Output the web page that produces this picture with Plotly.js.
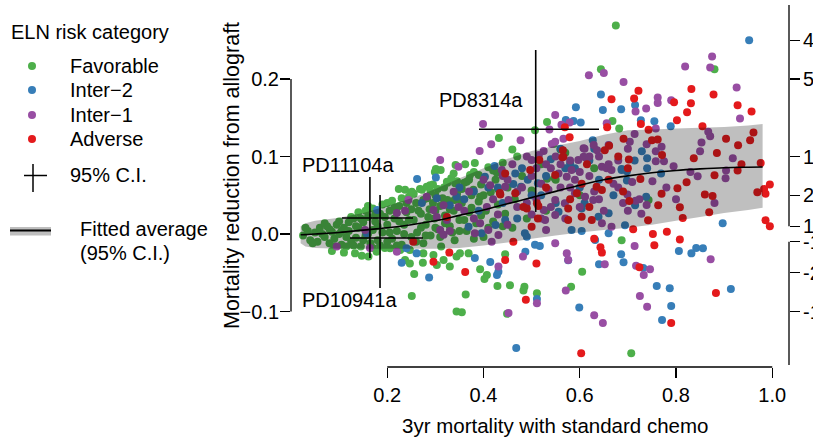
<!DOCTYPE html>
<html>
<head>
<meta charset="utf-8">
<script src="https://cdn.plot.ly/plotly-3.0.1.min.js"></script>
<style>html,body{margin:0;padding:0;background:#fff;}#chart{width:813px;height:441px;}</style>
</head>
<body>
<div id="chart"></div>
<script>
// ---------------- DATA ----------------
const categories = ["Favorable", "Inter\u22122", "Inter\u22121", "Adverse"];
const colors = ["#4DAF4A", "#377EB8", "#984EA3", "#E41A1C"];

const favorablePts = [
[0.025,-0.002],[0.035,0.004],[0.04,-0.008],[0.05,0.002],[0.055,-0.01],[0.06,0.008],[0.07,-0.004],[0.075,0.01],[0.08,-0.012],[0.085,0.003],[0.09,-0.006],[0.095,0.012],[0.1,0.0],[0.105,-0.014],[0.11,0.008],[0.115,-0.004],[0.12,0.015],[0.125,-0.01],
[0.03,0.008],[0.045,-0.012],[0.065,0.0],[0.07,0.014],[0.08,0.006],[0.09,-0.016],[0.1,0.016],[0.105,0.004],[0.115,-0.016],[0.12,0.004],[0.125,0.022],[0.13,-0.015],[0.135,0.01],[0.145,0.02],[0.15,-0.008],[0.16,0.036],[0.16,0.0],[0.17,-0.018],[0.175,0.025],[0.18,0.01],[0.185,-0.015],[0.195,0.022],[0.2,-0.01],[0.2,0.04],[0.205,0.002],[0.215,0.035],[0.22,-0.015],[0.225,0.016],[0.23,0.046],[0.235,0.0],[0.24,0.04],[0.245,0.018],[0.25,0.032],[0.255,0.052],[0.26,-0.01],[0.265,0.03],[0.27,0.008],[0.275,0.044],[0.28,-0.002],[0.285,0.022],[0.29,0.055],[0.295,0.04],[0.3,0.008],[0.3,0.03],[0.305,0.058],[0.31,-0.004],[0.315,0.046],[0.32,0.014],[0.325,0.066],[0.33,0.032],[0.335,0.002],[0.34,0.044],[0.345,0.068],[0.35,0.004],[0.355,0.058],[0.36,0.018],[0.37,0.07],[0.375,0.034],[0.38,-0.006],[0.39,0.076],[0.395,0.024],[0.4,0.05],[0.41,0.008],[0.42,0.082],[0.43,0.058],[0.44,0.01],
[0.13,0.02],[0.135,-0.005],[0.14,0.028],[0.14,0.008],[0.145,-0.016],[0.15,0.015],[0.155,0.03],[0.155,-0.002],[0.16,0.022],[0.165,-0.012],[0.17,0.005],[0.17,0.033],[0.175,0.016],[0.18,-0.008],[0.185,0.026],[0.19,0.002],[0.19,0.038],[0.195,-0.018],[0.2,0.012],[0.205,0.03],[0.21,-0.006],[0.21,0.043],[0.215,0.02],[0.22,0.004],[0.225,0.036],[0.23,-0.014],[0.235,0.012],[0.24,0.028],[0.245,0.048],[0.25,-0.004],
[0.255,0.018],[0.26,0.04],[0.262,0.002],[0.268,0.058],[0.27,0.026],[0.275,-0.012],[0.28,0.012],[0.283,0.046],[0.288,0.032],[0.29,-0.002],[0.295,0.064],[0.298,0.02],[0.3,0.05],[0.305,0.006],[0.31,0.036],[0.312,-0.016],[0.318,0.06],[0.32,0.024],[0.325,0.044],[0.33,0.01],[0.333,0.072],[0.338,0.03],[0.34,-0.008],[0.345,0.052],[0.35,0.018],
[0.355,0.04],[0.36,0.066],[0.365,0.004],[0.37,0.028],[0.375,0.05],[0.38,0.08],[0.385,0.014],[0.39,0.042],[0.395,0.064],[0.4,-0.004],[0.405,0.03],[0.41,0.086],[0.415,0.054],[0.42,0.016],[0.425,0.07],[0.43,0.038],[0.44,0.092],[0.445,0.026],[0.45,0.06],[0.46,0.008],[0.465,0.045],[0.47,0.1],[0.48,0.075],[0.49,0.02],[0.5,0.056],[0.52,0.09],[0.53,0.03],[0.55,0.07],[0.57,0.105],[0.6,0.05],[0.63,0.085],
[0.301,0.084],[0.311,0.0826],[0.342,0.089],[0.338,0.078],[0.324,0.0675],[0.341,0.0654],[0.224,0.058],[0.237,0.057],[0.251,0.0546],[0.272,0.057],[0.289,0.063],[0.299,0.08],[0.282,0.061],
[0.085,-0.022],[0.11,-0.024],[0.133,-0.025],[0.147,-0.028],[0.161,-0.029],[0.178,-0.023],[0.206,-0.0185],[0.227,-0.0206],[0.247,-0.0206],[0.275,-0.025],[0.237,-0.0335],[0.247,-0.038],[0.256,-0.0516],[0.274,-0.037],[0.303,-0.04],[0.317,-0.0335],[0.296,-0.027],[0.33,-0.042],[0.344,-0.029],[0.251,-0.08],[0.344,-0.1],
[0.351,-0.025],[0.369,-0.025],[0.445,-0.026],[0.393,-0.0456],[0.407,-0.053],[0.402,-0.058],[0.429,-0.067],[0.455,-0.066],[0.485,-0.068],[0.483,-0.073],[0.511,-0.0765],[0.363,-0.078],[0.355,-0.101],[0.449,-0.103],[0.582,-0.068],[0.605,-0.0486],
[0.532,0.1445],[0.507,0.134],[0.432,0.124],[0.46,0.109],[0.546,0.116],[0.56,0.109],[0.382,0.0916],[0.362,0.09],[0.372,0.076],[0.428,0.079],[0.532,0.0714],[0.548,0.072],[0.365,0.0675],[0.379,0.057],[0.393,0.048],[0.352,0.044],
[0.675,0.269],[0.644,0.2125],[0.88,0.2125],[0.668,0.1458],[0.682,0.136],[0.743,0.044],[0.687,-0.008],[0.707,-0.154]
];

const inter2Pts = [
[0.952,0.25],[0.715,0.1665],[0.686,0.161],[0.727,0.1467],[0.755,0.1454],[0.789,0.139],[0.729,0.1067],[0.714,0.095],[0.74,0.0977],[0.74,0.085],[0.769,0.078],[0.698,0.081],[0.687,0.084],[0.698,0.069],[0.738,0.048],[0.715,0.037],[0.694,0.0112],[0.897,0.0138],[0.806,-0.022],[0.842,-0.018],[0.856,-0.0185],[0.832,-0.025],[0.686,-0.026],[0.691,-0.0365],[0.732,-0.044],[0.76,-0.067],[0.787,-0.07],[0.914,-0.071],[0.79,-0.093],[0.771,-0.111],
[0.644,0.18],[0.592,0.1635],[0.648,0.16],[0.571,0.147],[0.587,0.1458],[0.602,0.144],[0.627,0.121],[0.423,0.0877],[0.403,0.074],[0.466,0.078],[0.54,0.0964],[0.58,0.091],[0.687,0.0826],[0.462,0.0645],[0.478,0.061],[0.492,0.07],[0.513,0.0654],[0.556,0.0288],[0.604,0.033],[0.639,0.0223],[0.66,0.0267],[0.486,0.001],[0.49,-0.0035],[0.507,-0.014],[0.583,0.005],[0.604,0.004],[0.369,0.0094],[0.396,0.001],[0.425,0.0116],[0.445,0.018],[0.382,-0.031],[0.414,-0.036],[0.431,-0.0486],[0.428,-0.053],[0.511,-0.084],[0.487,-0.023],[0.517,-0.0155],[0.599,-0.095],[0.468,-0.147],[0.64,-0.039],[0.632,-0.0077],[0.66,0.001],[0.576,-0.034],
[0.262,0.071],[0.301,0.073],[0.24,-0.0185],[0.261,-0.025],[0.23,-0.037],[0.287,-0.056],[0.179,0.031],[0.157,0.001],[0.272,0.04],[0.303,0.046],[0.33,0.037],[0.344,0.048],
[0.36,0.045],[0.39,0.03],[0.41,0.06],[0.44,0.04],[0.47,0.02],[0.5,0.05],[0.53,0.075],[0.55,0.04],[0.57,0.085],[0.6,0.06],[0.62,0.095],[0.64,0.07],[0.67,0.05],
[0.48,0.085],[0.52,0.05],[0.56,0.11],[0.59,0.085],[0.61,0.04],[0.63,0.11],[0.43,0.06],[0.38,0.055],[0.35,0.06]
];

const inter1Pts = [
[0.875,0.229],[0.819,0.216],[0.871,0.215],[0.691,0.196],[0.926,0.189],[0.762,0.176],[0.762,0.169],[0.79,0.1725],[0.738,0.162],[0.716,0.158],[0.933,0.149],[0.758,0.136],[0.714,0.129],[0.867,0.132],[0.871,0.126],[0.704,0.119],[0.739,0.1157],[0.853,0.118],[0.77,0.1127],[0.758,0.1067],[0.85,0.1067],[0.758,0.094],[0.775,0.094],[0.918,0.0977],[0.795,0.0873],[0.709,0.067],[0.751,0.068],[0.845,0.0744],[0.904,0.082],[0.903,0.072],[0.699,0.051],[0.716,0.043],[0.724,0.045],[0.739,0.0374],[0.8,0.0447],[0.728,0.026],[0.714,-0.0155],[0.872,-0.0327],[0.717,-0.041],[0.746,-0.0456],[0.733,-0.053],[0.725,-0.08],[0.74,-0.094],
[0.65,0.2077],[0.619,0.2047],[0.579,0.144],[0.562,0.141],[0.656,0.143],[0.549,0.1535],[0.399,0.142],[0.537,0.135],[0.477,0.121],[0.416,0.1157],[0.392,0.107],[0.566,0.123],[0.525,0.107],[0.542,0.116],[0.549,0.119],[0.608,0.1106],[0.629,0.115],[0.636,0.108],[0.613,0.0985],[0.348,0.0868],[0.438,0.0826],[0.5,0.0955],[0.515,0.102],[0.53,0.09],[0.556,0.078],[0.573,0.074],[0.583,0.0826],[0.597,0.0955],[0.608,0.0998],[0.646,0.0868],[0.656,0.085],[0.666,0.0826],[0.414,0.063],[0.445,0.061],[0.452,0.044],[0.407,0.035],[0.535,0.057],[0.549,0.044],[0.569,0.0396],[0.59,0.0525],[0.611,0.048],[0.628,0.044],[0.525,0.031],[0.528,0.018],[0.549,0.0245],[0.646,0.0138],[0.666,0.0094],[0.393,0.0138],[0.41,0.005],[0.431,-0.0013],[0.382,0.001],[0.417,-0.01],[0.431,-0.042],[0.511,-0.0895],[0.452,-0.102],[0.571,-0.073],[0.549,-0.012],[0.573,-0.025],[0.576,-0.0335],[0.482,-0.029],[0.63,-0.105],[0.648,-0.115],[0.652,-0.039],
[0.31,0.0955],[0.095,-0.016],[0.22,-0.023],[0.154,0.005],[0.164,-0.018],[0.22,0.027],[0.244,0.044],[0.237,0.03],[0.296,0.031],[0.317,0.037],[0.31,0.005],[0.282,0.048],[0.303,0.022],[0.324,0.018],[0.338,0.0546],[0.348,0.035],[0.317,-0.001],[0.33,0.004],
[0.36,0.03],[0.37,0.055],[0.38,0.02],[0.4,0.07],[0.42,0.045],[0.43,0.025],[0.44,0.075],[0.45,0.012],[0.46,0.09],[0.47,0.035],[0.48,0.06],[0.49,0.1],[0.5,0.025],[0.5,0.075],[0.51,0.045],[0.52,0.065],[0.53,0.005],[0.54,0.085],[0.55,0.1],[0.56,0.06],[0.57,0.02],[0.58,0.095],[0.59,0.07],[0.6,0.035],[0.61,0.11],[0.62,0.075],[0.63,0.055],[0.64,0.1],[0.65,0.03],[0.66,0.115],[0.67,0.065],[0.68,0.095],[0.69,0.04],[0.7,0.11],
[0.45,0.07],[0.47,0.055],[0.49,0.04],[0.51,0.085],[0.52,0.02],[0.54,0.035],[0.56,0.09],[0.58,0.06],[0.6,0.08],[0.62,0.1],[0.64,0.045],[0.66,0.09],[0.68,0.06],[0.7,0.03],[0.78,0.06],[0.83,0.08],[0.88,0.04]
];

const adversePts = [
[0.722,0.185],[0.832,0.187],[0.878,0.18],[0.713,0.175],[0.796,0.17],[0.831,0.1686],[0.823,0.157],[0.928,0.166],[0.957,0.158],[0.802,0.1467],[0.727,0.142],[0.855,0.139],[0.743,0.1346],[0.691,0.123],[0.75,0.121],[0.762,0.122],[0.904,0.123],[0.961,0.131],[0.954,0.121],[0.929,0.1145],[0.771,0.102],[0.885,0.1045],[0.837,0.0977],[0.936,0.09],[0.976,0.0916],[0.702,0.096],[0.726,0.071],[0.88,0.0757],[0.928,0.082],[0.822,0.0667],[0.803,0.059],[0.77,0.052],[0.703,0.0426],[0.763,0.037],[0.86,0.051],[0.876,0.049],[0.808,0.0344],[0.969,0.054],[0.983,0.058],[0.986,0.052],[0.995,0.064],[0.869,0.028],[0.814,0.0206],[0.742,0.0177],[0.711,0.006],[0.986,0.0177],[0.995,0.01],[0.752,0.0],[0.781,0.003],[0.808,-0.007],[0.755,-0.0146],[0.724,-0.043],[0.883,-0.076],[0.79,-0.115],
[0.666,0.174],[0.569,0.1377],[0.657,0.1377],[0.579,0.125],[0.661,0.114],[0.565,0.108],[0.564,0.099],[0.497,0.0826],[0.516,0.0955],[0.615,0.09],[0.466,0.0525],[0.435,0.051],[0.49,0.033],[0.514,0.036],[0.576,0.033],[0.604,0.0223],[0.625,0.018],[0.576,0.018],[0.513,0.02],[0.5,0.0094],[0.462,-0.01],[0.445,-0.0335],[0.51,-0.038],[0.362,-0.049],[0.488,-0.085],[0.603,-0.154],[0.643,-0.017],[0.646,-0.024],[0.63,-0.006],
[0.254,-0.01],[0.296,-0.0357],[0.329,-0.024],[0.324,0.022],
[0.445,0.078],[0.434,0.053],[0.483,0.035],[0.549,0.076],[0.566,0.0998],[0.652,0.108],[0.604,0.065],[0.635,0.061],[0.594,0.0525],[0.646,0.0568],[0.511,0.0396],
[0.53,0.06],[0.58,0.045],[0.62,0.035],[0.66,0.07],[0.68,0.1],[0.69,0.055],[0.7,0.085]
];

// Fitted average and its 95% band
const fitX     = [0.02, 0.03, 0.05, 0.1, 0.15, 0.2, 0.25, 0.3, 0.35, 0.4, 0.45, 0.5, 0.55, 0.6, 0.65, 0.7, 0.75, 0.8, 0.85, 0.9, 0.95, 0.98];
const fitY     = [-0.001, -0.0008, 0.0, 0.002, 0.005, 0.008, 0.012, 0.017, 0.024, 0.031, 0.039, 0.047, 0.055, 0.063, 0.07, 0.075, 0.079, 0.082, 0.084, 0.0855, 0.0862, 0.0865];
const bandHigh = [0.010, 0.014, 0.017, 0.021, 0.027, 0.036, 0.046, 0.058, 0.072, 0.085, 0.097, 0.107, 0.114, 0.12, 0.128, 0.134, 0.135, 0.136, 0.137, 0.138, 0.14, 0.142];
const bandLow  = [-0.012, -0.016, -0.018, -0.019, -0.019, -0.019, -0.019, -0.019, -0.018, -0.015, -0.011, -0.006, -0.002, 0.002, 0.005, 0.008, 0.012, 0.017, 0.022, 0.027, 0.031, 0.034];

// Highlighted samples with 95% C.I.
const ciNames = ["PD11104a", "PD10941a", "PD8314a"];
const ciX   = [0.164, 0.185, 0.5085];
const ciXlo = [0.106, 0.1226, 0.3906];
const ciXhi = [0.2535, 0.2743, 0.64];
const ciY   = [0.0206, -0.0052, 0.1351];
const ciYlo = [-0.031, -0.0697, 0.0284];
const ciYhi = [0.0735, 0.0503, 0.2374];

// Axis ticks
const xTickVals = [0.2, 0.4, 0.6, 0.8, 1.0];
const xTickText = ["0.2", "0.4", "0.6", "0.8", "1.0"];
const yTickVals = [-0.1, 0.0, 0.1, 0.2];
const yTickText = ["\u22120.1", "0.0", "0.1", "0.2"];
const nntVals = [0.25, 0.2, 0.1, 0.05, 0.01, -0.01, -0.05, -0.1];
const nntText = ["4", "5", "10", "20", "100", "-100", "-20", "-10"];

// ---------------- LAYOUT HELPERS ----------------
const W = 813, H = 441, ML = 291, MR = 24, MT = 5, MB = 74;
const PW = W - ML - MR, PH = H - MT - MB;
const PX = p => (p - ML) / PW;
const PY = p => (H - MB - p) / PH;
const FONT = "Liberation Sans, Arial, Helvetica, sans-serif";
const xRange = [0, 1.03481];
const yRange = [-0.171613, 0.295484];

const ptsSets = [favorablePts, inter2Pts, inter1Pts, adversePts];
const traces = ptsSets.map((pts, i) => ({
  type: "scatter", mode: "markers", name: categories[i],
  x: pts.map(p => p[0]), y: pts.map(p => p[1]),
  marker: {color: colors[i], size: 8, line: {width: 0}},
  showlegend: false, hoverinfo: "skip"
}));

traces.push({
  type: "scatter", mode: "lines", x: fitX, y: fitY, yaxis: "y2",
  line: {color: "#000", width: 1.6, shape: "spline"},
  showlegend: false, hoverinfo: "skip"
});
traces.push({
  type: "scatter", mode: "markers", x: ciX, y: ciY, yaxis: "y2",
  marker: {size: 1, color: "rgba(0,0,0,0)"},
  error_x: {type: "data", symmetric: false,
            array: ciX.map((v, i) => ciXhi[i] - v), arrayminus: ciX.map((v, i) => v - ciXlo[i]),
            width: 0, thickness: 1.6, color: "#000"},
  error_y: {type: "data", symmetric: false,
            array: ciY.map((v, i) => ciYhi[i] - v), arrayminus: ciY.map((v, i) => v - ciYlo[i]),
            width: 0, thickness: 1.6, color: "#000"},
  showlegend: false, hoverinfo: "skip"
});

const ciLabelPos = [[0.0187, 0.089], [0.0187, -0.0858], [0.3034, 0.1729]];

const annotations = [];
ciNames.forEach((n, i) => annotations.push({
  xref: "x", yref: "y", x: ciLabelPos[i][0], y: ciLabelPos[i][1], text: n,
  showarrow: false, xanchor: "left", yanchor: "middle", font: {family: FONT, size: 20, color: "#000"}
}));
function txt(text, px, py, xanchor, extra) {
  annotations.push(Object.assign({xref: "paper", yref: "paper", x: PX(px), y: PY(py), text: text,
    showarrow: false, xanchor: xanchor || "left", yanchor: "middle",
    font: {family: FONT, size: 20, color: "#000"}}, extra || {}));
}
txt("ELN risk category", 9, 32);
const legY = [66, 90, 115, 139];
categories.forEach((c, i) => txt(c, 68, legY[i]));
txt("95% C.I.", 68, 175);
txt("Fitted average", 78, 229);
txt("(95% C.I.)", 78, 253);
txt("3yr mortality with standard chemo", 555, 425, "center", {font: {family: FONT, size: 20.5, color: "#000"}});
txt("Mortality reduction from allograft", 232, 176, "center", {textangle: -90, font: {family: FONT, size: 21.5, color: "#000"}});

const shapes = [];
// translucent 95% band drawn above the points (built from the band arrays)
const bandPath = "M " + fitX.map((x, i) => x + "," + bandHigh[i]).join(" L ") + " L " +
  fitX.slice().reverse().map((x, j) => x + "," + bandLow[fitX.length - 1 - j]).join(" L ") + " Z";
shapes.push({type: "path", xref: "x", yref: "y", path: bandPath, layer: "above",
  fillcolor: "rgba(0,0,0,0.25)", line: {width: 0}});

legY.forEach((y, i) => shapes.push({type: "circle", xref: "paper", yref: "paper",
  xsizemode: "pixel", ysizemode: "pixel", xanchor: PX(32), yanchor: PY(y),
  x0: -4, x1: 4, y0: -4, y1: 4, fillcolor: colors[i], line: {width: 0}}));
const L = (x0, y0, x1, y1, w) => ({type: "line", xref: "paper", yref: "paper",
  x0: PX(x0), y0: PY(y0), x1: PX(x1), y1: PY(y1), line: {color: "#000", width: w || 1.5}});
shapes.push(L(24, 175.5, 47, 175.5));
shapes.push(L(33, 164, 33, 192));
shapes.push({type: "rect", xref: "paper", yref: "paper", x0: PX(10), x1: PX(51), y0: PY(227), y1: PY(235.5),
  fillcolor: "#BEBEBE", line: {width: 0}});
shapes.push(L(10, 230.5, 51, 230.5, 1.8));
// R-style axis lines
shapes.push({type: "line", xref: "paper", yref: "y", x0: 0, x1: 0, y0: yTickVals[0], y1: yTickVals[yTickVals.length - 1], line: {color: "#000", width: 1.3}});
shapes.push({type: "line", xref: "x", yref: "paper", x0: xTickVals[0], x1: xTickVals[xTickVals.length - 1], y0: 0, y1: 0, line: {color: "#000", width: 1.3}});
shapes.push({type: "line", xref: "paper", yref: "y", x0: 1, x1: 1, y0: 0.01, y1: yRange[1], line: {color: "#000", width: 1.3}});
shapes.push({type: "line", xref: "paper", yref: "y", x0: 1, x1: 1, y0: -0.01, y1: -0.169, line: {color: "#000", width: 1.3}});

const layout = {
  width: W, height: H,
  margin: {l: ML, r: MR, t: MT, b: MB, pad: 0},
  paper_bgcolor: "#fff", plot_bgcolor: "#fff",
  font: {family: FONT, size: 20, color: "#000"},
  showlegend: false,
  xaxis: {range: xRange, showgrid: false, zeroline: false, showline: false,
    ticks: "outside", ticklen: 10, tickwidth: 1.3, tickcolor: "#000",
    tickvals: xTickVals, ticktext: xTickText, tickfont: {family: FONT, size: 20}},
  yaxis: {range: yRange, showgrid: false, zeroline: false, showline: false,
    ticks: "outside", ticklen: 10, tickwidth: 1.3, tickcolor: "#000", ticklabelstandoff: -3,
    tickvals: yTickVals, ticktext: yTickText, tickfont: {family: FONT, size: 20}},
  yaxis2: {range: yRange, overlaying: "y", side: "right", anchor: "x",
    showgrid: false, zeroline: false, showline: false,
    ticks: "outside", ticklen: 10, tickwidth: 1.3, tickcolor: "#000", ticklabelstandoff: -1,
    tickvals: nntVals, ticktext: nntText, tickfont: {family: FONT, size: 20}},
  annotations: annotations,
  shapes: shapes
};

Plotly.newPlot("chart", traces, layout, {staticPlot: true, displayModeBar: false});
</script>
</body>
</html>
